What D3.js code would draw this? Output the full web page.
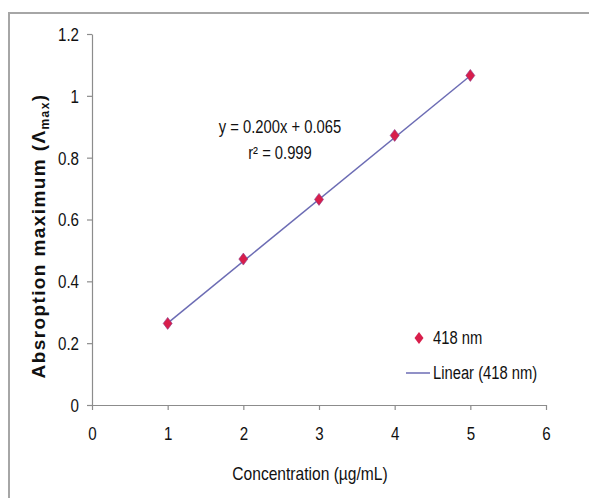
<!DOCTYPE html>
<html>
<head>
<meta charset="utf-8">
<script src="https://cdn.jsdelivr.net/npm/d3@7"></script>
<style>
  body { margin: 0; background: #fff; }
</style>
</head>
<body>
<script>
// Calibration data
const concentrations = [1, 2, 3, 4, 5]
const absorbance418 = [0.264, 0.472, 0.665, 0.872, 1.066]
const xTicks = [0, 1, 2, 3, 4, 5, 6]
const yTicks = [0, 0.2, 0.4, 0.6, 0.8, 1, 1.2]
const trendCoef = [0.200, 0.065] // slope, intercept
const equationLines = ['y = 0.200x + 0.065', 'r\u00b2 = 0.999']
const legendLabels = ['418 nm', 'Linear (418 nm)']

const width = 589
const height = 498
const margin = {left: 92, right: 43, top: 34, bottom: 93}
const sans = '"Liberation Sans", Arial, sans-serif'
const markerFill = '#d81e4b'
const lineColour = '#6c6cb4'
const axisColour = '#8c8c8c'

// No narrow font installed, so squeeze the glyphs to mimic Arial Narrow
function condense(sel, k = 0.82) {
  sel.each(function () {
    const len = this.getComputedTextLength()
    d3.select(this)
      .attr('textLength', len * k)
      .attr('lengthAdjust', 'spacingAndGlyphs')
  })
}

const svg = d3.select('body')
  .append('svg')
  .attr('width', width)
  .attr('height', height)
  .style('font-family', sans)

// Outer frame (runs off the right and bottom edges)
svg.append('rect')
  .attr('x', 9)
  .attr('y', 13)
  .attr('width', width + 20)
  .attr('height', height + 20)
  .attr('fill', 'none')
  .attr('stroke', '#a6a6a6')
  .attr('stroke-width', 2)

const xScale = d3.scaleLinear().domain([0, 6]).range([margin.left, width - margin.right])
const yScale = d3.scaleLinear().domain([0, 1.2]).range([height - margin.bottom, margin.top])

// Axes
const gx = svg.append('g')
  .attr('transform', `translate(0,${yScale(0)})`)
  .call(d3.axisBottom(xScale)
    .tickValues(xTicks)
    .tickFormat(d3.format('d'))
    .tickSize(5)
    .tickSizeOuter(0)
    .tickPadding(17))
const gy = svg.append('g')
  .attr('transform', `translate(${xScale(0)},0)`)
  .call(d3.axisLeft(yScale)
    .tickValues(yTicks)
    .tickFormat(d => d3.format('~g')(d))
    .tickSize(5)
    .tickSizeOuter(0)
    .tickPadding(8))

;[gx, gy].forEach(g => {
  g.select('.domain').attr('stroke', axisColour).attr('stroke-width', 1.2)
  g.selectAll('.tick line').attr('stroke', axisColour).attr('stroke-width', 1.2)
  g.selectAll('.tick text')
    .attr('fill', '#111')
    .style('font-family', sans)
    .style('font-size', '18px')
    .call(condense, 0.84)
})
gy.selectAll('.tick text').attr('dy', '0.36em')

// Trendline
const trend = x => trendCoef[0] * x + trendCoef[1]
const xExt = d3.extent(concentrations)
svg.append('line')
  .attr('x1', xScale(xExt[0]))
  .attr('y1', yScale(trend(xExt[0])))
  .attr('x2', xScale(xExt[1]))
  .attr('y2', yScale(trend(xExt[1])))
  .attr('stroke', lineColour)
  .attr('stroke-width', 1.5)

// Diamond markers
const diamond = 'M0,-6L4.5,0L0,6L-4.5,0Z'
svg.selectAll('.pt')
  .data(concentrations.map((c, i) => ({x: c, y: absorbance418[i]})))
  .join('path')
  .attr('class', 'pt')
  .attr('d', diamond)
  .attr('transform', d => `translate(${xScale(d.x)},${yScale(d.y)})`)
  .attr('fill', markerFill)
  .attr('stroke', '#8a3c8c')
  .attr('stroke-width', 0.6)

// Regression equation
svg.append('g')
  .selectAll('text')
  .data(equationLines)
  .join('text')
  .attr('x', 280)
  .attr('y', (d, i) => 133 + i * 26)
  .attr('text-anchor', 'middle')
  .style('font-size', '18px')
  .attr('fill', '#111')
  .text(d => d)
  .call(condense)

// Legend
const lg = svg.append('g')
lg.append('path')
  .attr('d', diamond)
  .attr('transform', 'translate(419,338)')
  .attr('fill', markerFill)
lg.append('line')
  .attr('x1', 406).attr('x2', 430)
  .attr('y1', 373).attr('y2', 373)
  .attr('stroke', lineColour)
  .attr('stroke-width', 1.5)
lg.selectAll('text')
  .data(legendLabels)
  .join('text')
  .attr('x', 433)
  .attr('y', (d, i) => 344 + i * 35)
  .style('font-size', '18px')
  .attr('fill', '#111')
  .text(d => d)
  .call(condense)

// Axis titles
svg.append('text')
  .attr('x', 310)
  .attr('y', 480)
  .attr('text-anchor', 'middle')
  .style('font-size', '19px')
  .attr('fill', '#111')
  .text('Concentration (\u00b5g/mL)')
  .call(condense)

const yTitle = svg.append('text')
  .attr('transform', `translate(45,236) rotate(-90)`)
  .attr('text-anchor', 'middle')
  .style('font-weight', 'bold')
  .style('font-size', '19px')
  .style('letter-spacing', '1.4px')
  .attr('fill', '#111')
yTitle.append('tspan').text('Absroption maximum (\u039b')
yTitle.append('tspan').attr('dy', 4).style('font-size', '12px').text('max')
yTitle.append('tspan').attr('dy', -4).text(')')
</script>
</body>
</html>
